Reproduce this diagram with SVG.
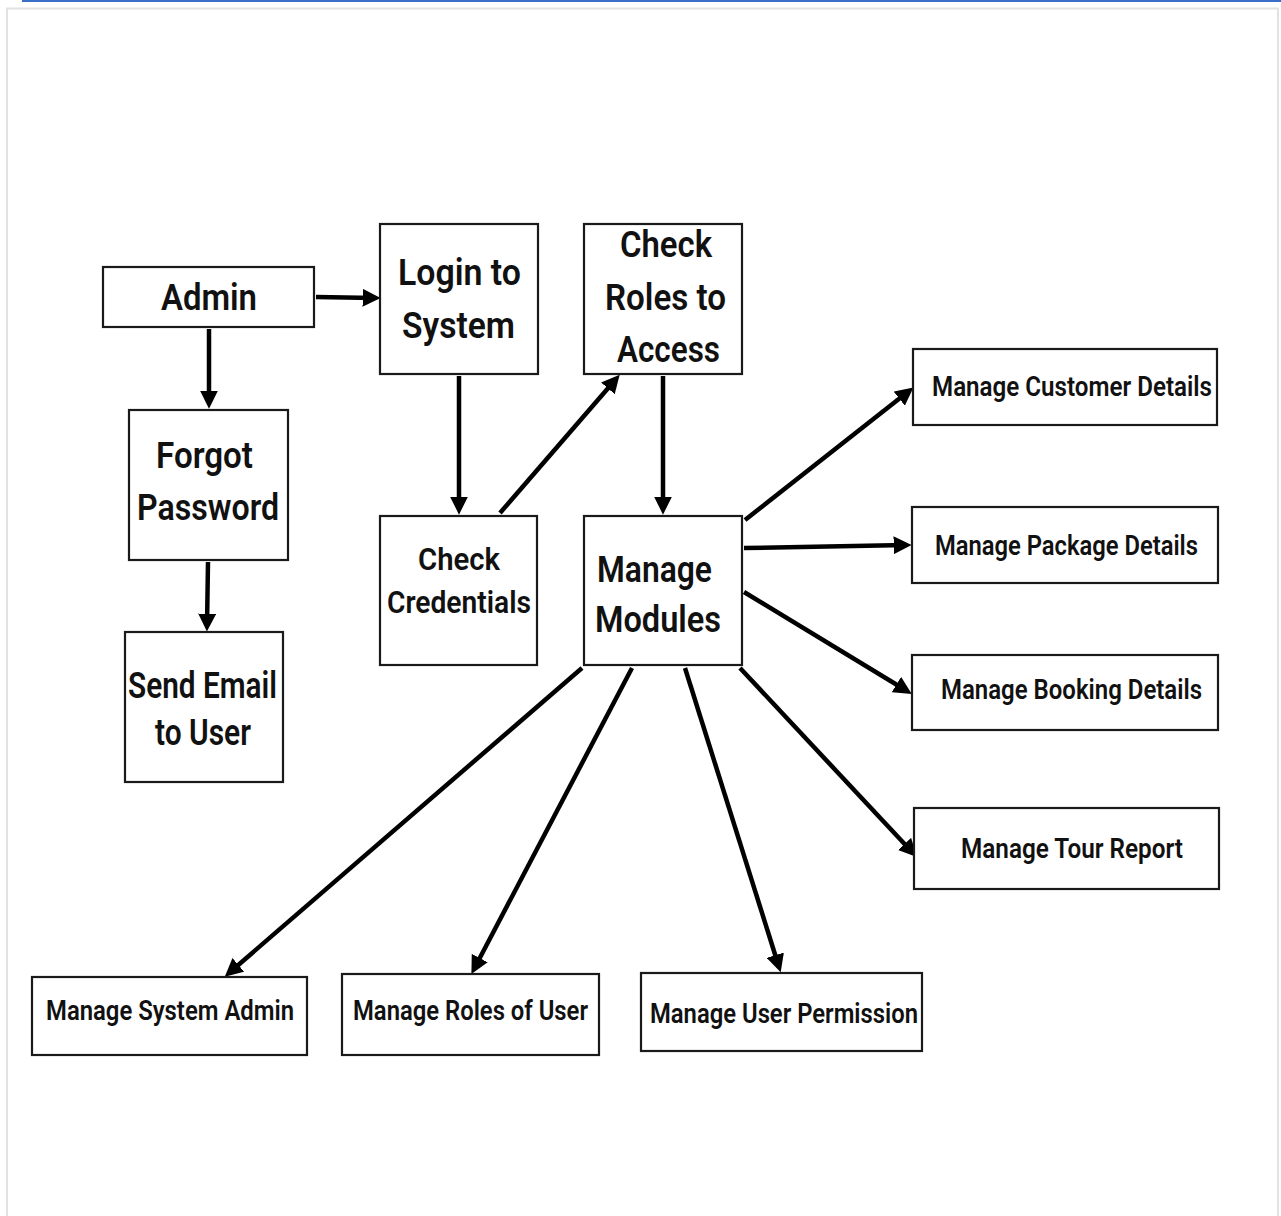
<svg xmlns="http://www.w3.org/2000/svg" width="1281" height="1216" viewBox="0 0 1281 1216">
<style>
.box{fill:#fff;stroke:#1a1a1a;stroke-width:2.2}
.t{font-family:Roboto,"Liberation Sans",sans-serif;font-weight:600;fill:#111}
.L{font-size:36px}
.M{font-size:32px}
.S{font-size:27px}
.c{stroke:#000;stroke-width:4.5;fill:none;marker-end:url(#ah)}
</style>
<defs>
<marker id="ah" viewBox="0 0 16 16" refX="11" refY="8" markerWidth="18" markerHeight="18" markerUnits="userSpaceOnUse" orient="auto">
<path d="M0,0 L16,8 L0,16 z" fill="#000"/>
</marker>
</defs>
<rect x="0" y="0" width="1281" height="1216" fill="#fff"/>
<line x1="22" y1="1" x2="1281" y2="1" stroke="#3a6fc9" stroke-width="2"/>
<path d="M7,1216 V8.5 H1278 V1216" fill="none" stroke="#e2e2e2" stroke-width="2"/>

<g id="connectors">
<line class="c" x1="316" y1="297" x2="375" y2="298"/>
<line class="c" x1="209" y1="329" x2="209" y2="403"/>
<line class="c" x1="208" y1="562" x2="207" y2="626"/>
<line class="c" x1="459" y1="376" x2="459" y2="509"/>
<line class="c" x1="500" y1="513" x2="616" y2="379"/>
<line class="c" x1="663" y1="376" x2="663" y2="509"/>
<line class="c" x1="745" y1="520" x2="909" y2="391"/>
<line class="c" x1="744" y1="548" x2="906" y2="545"/>
<line class="c" x1="744" y1="592" x2="907" y2="691"/>
<line class="c" x1="740" y1="668" x2="913" y2="853"/>
<line class="c" x1="582" y1="668" x2="229" y2="973"/>
<line class="c" x1="632" y1="668" x2="474" y2="969"/>
<line class="c" x1="685" y1="668" x2="779" y2="967"/>
</g>

<g id="admin">
<rect class="box" x="103" y="267" width="211" height="60"/>
<text class="t L" x="161" y="310" textLength="96" lengthAdjust="spacingAndGlyphs">Admin</text>
</g>
<g id="login">
<rect class="box" x="380" y="224" width="158" height="150"/>
<text class="t L" x="398" y="285" textLength="123" lengthAdjust="spacingAndGlyphs">Login to</text>
<text class="t L" x="402" y="338" textLength="113" lengthAdjust="spacingAndGlyphs">System</text>
</g>
<g id="check-roles">
<rect class="box" x="584" y="224" width="158" height="150"/>
<text class="t L" x="620" y="257" textLength="92" lengthAdjust="spacingAndGlyphs">Check</text>
<text class="t L" x="605" y="310" textLength="121" lengthAdjust="spacingAndGlyphs">Roles to</text>
<text class="t L" x="617" y="362" textLength="103" lengthAdjust="spacingAndGlyphs">Access</text>
</g>
<g id="forgot">
<rect class="box" x="129" y="410" width="159" height="150"/>
<text class="t L" x="156" y="468" textLength="97" lengthAdjust="spacingAndGlyphs">Forgot</text>
<text class="t L" x="137" y="520" textLength="142" lengthAdjust="spacingAndGlyphs">Password</text>
</g>
<g id="send-email">
<rect class="box" x="125" y="632" width="158" height="150"/>
<text class="t L" x="128" y="698" textLength="149" lengthAdjust="spacingAndGlyphs">Send Email</text>
<text class="t L" x="155" y="745" textLength="96" lengthAdjust="spacingAndGlyphs">to User</text>
</g>
<g id="check-credentials">
<rect class="box" x="380" y="516" width="157" height="149"/>
<text class="t M" x="418" y="570" textLength="82" lengthAdjust="spacingAndGlyphs">Check</text>
<text class="t M" x="387" y="613" textLength="144" lengthAdjust="spacingAndGlyphs">Credentials</text>
</g>
<g id="manage-modules">
<rect class="box" x="584" y="516" width="158" height="149"/>
<text class="t L" x="597" y="582" textLength="115" lengthAdjust="spacingAndGlyphs">Manage</text>
<text class="t L" x="595" y="632" textLength="126" lengthAdjust="spacingAndGlyphs">Modules</text>
</g>
<g id="customer">
<rect class="box" x="913" y="349" width="304" height="76"/>
<text class="t S" x="932" y="396" textLength="280" lengthAdjust="spacingAndGlyphs">Manage Customer Details</text>
</g>
<g id="package">
<rect class="box" x="912" y="507" width="306" height="76"/>
<text class="t S" x="935" y="555" textLength="263" lengthAdjust="spacingAndGlyphs">Manage Package Details</text>
</g>
<g id="booking">
<rect class="box" x="912" y="655" width="306" height="75"/>
<text class="t S" x="941" y="699" textLength="261" lengthAdjust="spacingAndGlyphs">Manage Booking Details</text>
</g>
<g id="tour">
<rect class="box" x="914" y="808" width="305" height="81"/>
<text class="t S" x="961" y="858" textLength="222" lengthAdjust="spacingAndGlyphs">Manage Tour Report</text>
</g>
<g id="system-admin">
<rect class="box" x="32" y="977" width="275" height="78"/>
<text class="t S" x="46" y="1020" textLength="248" lengthAdjust="spacingAndGlyphs">Manage System Admin</text>
</g>
<g id="roles-user">
<rect class="box" x="342" y="974" width="257" height="81"/>
<text class="t S" x="353" y="1020" textLength="235" lengthAdjust="spacingAndGlyphs">Manage Roles of User</text>
</g>
<g id="user-permission">
<rect class="box" x="641" y="973" width="281" height="78"/>
<text class="t S" x="650" y="1023" textLength="268" lengthAdjust="spacingAndGlyphs">Manage User Permission</text>
</g>
</svg>
